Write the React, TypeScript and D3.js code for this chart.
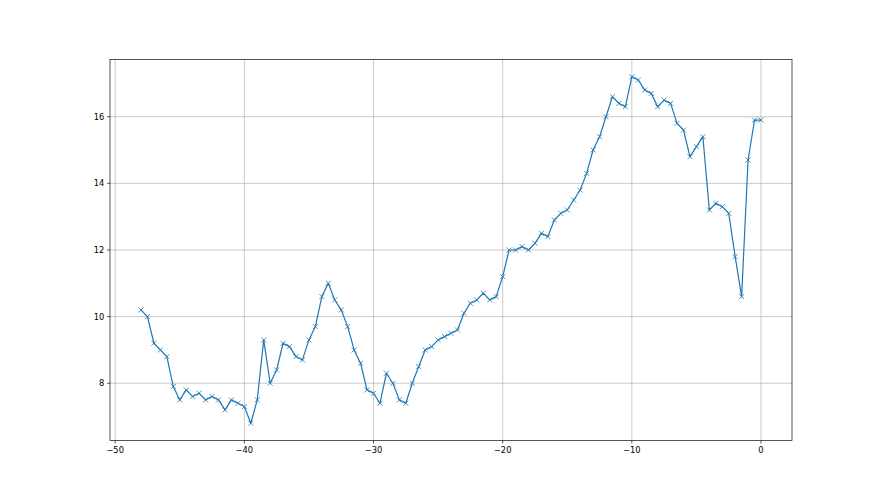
import React from "react";
import * as d3 from "d3";

const xStart = -48;
const xStep = 0.5;
const yValues: number[] = [
  10.2, 10.0, 9.2, 9.0, 8.8, 7.9, 7.5, 7.8, 7.6, 7.7, 7.5, 7.6, 7.5, 7.2, 7.5, 7.4, 7.3, 6.8, 7.5, 9.3, 8.0, 8.4, 9.2, 9.1, 8.8,
  8.7, 9.3, 9.7, 10.6, 11.0, 10.5, 10.2, 9.7, 9.0, 8.6, 7.8, 7.7, 7.4, 8.3, 8.0, 7.5, 7.4, 8.0, 8.5, 9.0, 9.1, 9.3, 9.4, 9.5, 9.6, 10.1, 10.4, 10.5,
  10.7, 10.5, 10.6, 11.2, 12.0, 12.0, 12.1, 12.0, 12.2, 12.5, 12.4, 12.9, 13.1, 13.2, 13.5, 13.8,
  14.3, 15.0, 15.4, 16.0, 16.6, 16.4, 16.3, 17.2, 17.1, 16.8, 16.7, 16.3, 16.5, 16.4, 15.8, 15.6, 14.8, 15.1, 15.4, 13.2, 13.4, 13.3, 13.1, 11.8, 10.6, 14.7, 15.9, 15.9,
];
const xValues: number[] = yValues.map((_, i) => xStart + i * xStep);
const xTicks: number[] = [-50, -40, -30, -20, -10, 0];
const yTicks: number[] = [8, 10, 12, 14, 16];

const W = 880;
const H = 495;
const L = 110, R = 792, T = 59.4, B = 440.55;
const COLOR = "#1f77b4";

export default function App() {
  const xMin = d3.min(xValues)!, xMax = d3.max(xValues)!;
  const yMin = d3.min(yValues)!, yMax = d3.max(yValues)!;
  const xm = (xMax - xMin) * 0.05, ym = (yMax - yMin) * 0.05;
  const x = d3.scaleLinear().domain([xMin - xm, xMax + xm]).range([L, R]);
  const y = d3.scaleLinear().domain([yMin - ym, yMax + ym]).range([B, T]);
  const pts = xValues.map((xv, i) => [x(xv), y(yValues[i])] as [number, number]);
  const line = d3.line()(pts) || "";
  const fmt = (v: number) => (v < 0 ? "\u2212" + Math.abs(v) : String(v));
  const ms = 2.5;
  const font = "DejaVu Sans, sans-serif";
  const fs = 8.3;
  const tl = 2.9;
  return (
    <svg width={W} height={H} style={{ position: "absolute", left: 0, top: 0, background: "#fff" }}>
      <rect x={0} y={0} width={W} height={H} fill="#fff" />
      {xTicks.map((t) => (
        <line key={"gx" + t} x1={x(t)} x2={x(t)} y1={T} y2={B} stroke="#b0b0b0" strokeWidth={0.67} />
      ))}
      {yTicks.map((t) => (
        <line key={"gy" + t} x1={L} x2={R} y1={y(t)} y2={y(t)} stroke="#b0b0b0" strokeWidth={0.67} />
      ))}
      <path d={line} fill="none" stroke={COLOR} strokeWidth={1.2} strokeLinejoin="round" strokeLinecap="square" />
      {pts.map(([px, py], i) => (
        <path
          key={"m" + i}
          d={`M${px - ms},${py - ms}L${px + ms},${py + ms}M${px - ms},${py + ms}L${px + ms},${py - ms}`}
          stroke={COLOR}
          strokeWidth={0.8}
          fill="none"
        />
      ))}
      <rect x={L} y={T} width={R - L} height={B - T} fill="none" stroke="#000" strokeWidth={0.67} />
      {xTicks.map((t) => (
        <g key={"tx" + t}>
          <line x1={x(t)} x2={x(t)} y1={B} y2={B + tl} stroke="#000" strokeWidth={0.67} />
          <text x={x(t)} y={452.7} textAnchor="middle" fontFamily={font} fontSize={fs} fill="#000">
            {fmt(t)}
          </text>
        </g>
      ))}
      {yTicks.map((t) => (
        <g key={"ty" + t}>
          <line x1={L - tl} x2={L} y1={y(t)} y2={y(t)} stroke="#000" strokeWidth={0.67} />
          <text x={L - 5.8} y={y(t)} dy="0.36em" textAnchor="end" fontFamily={font} fontSize={fs} fill="#000">
            {fmt(t)}
          </text>
        </g>
      ))}
    </svg>
  );
}
